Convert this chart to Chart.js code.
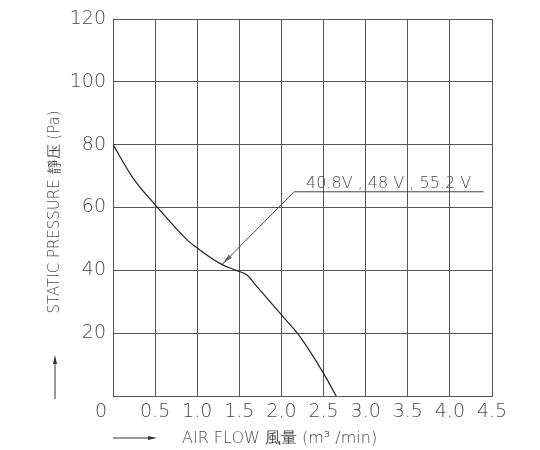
<!DOCTYPE html>
<html>
<head>
<meta charset="utf-8">
<script src="https://cdn.jsdelivr.net/npm/chart.js@4/dist/chart.umd.min.js"></script>
<style>
  html, body { margin: 0; padding: 0; background: #fff; }
  #wrap { width: 540px; height: 450px; position: relative; }
</style>
</head>
<body>
<div id="wrap"><canvas id="c" width="540" height="450"></canvas></div>
<script>
// P-Q curve
var flowX = [0, 0.24, 0.52, 0.88, 1.03, 1.29, 1.47, 1.59, 1.71, 2.0, 2.22, 2.5, 2.65];
var pressY = [80, 69.3, 60.3, 49.7, 46.5, 41.9, 39.9, 38.5, 34.8, 25.8, 18.9, 7.2, 0];

// leader line for the voltage note
var leaderX = [4.4, 2.15, 1.3];
var leaderY = [65, 65, 42];
var noteText = "40.8V , 48 V , 55.2 V";

var xTicks = [0, 0.5, 1.0, 1.5, 2.0, 2.5, 3.0, 3.5, 4.0, 4.5];
var yTicks = [0, 20, 40, 60, 80, 100, 120];

var FONT = '"DejaVu Sans", sans-serif';
var TXT = "#4a4a4a";
var GRID = "#555";

function pts(xs, ys) {
  return xs.map(function(x, i) { return { x: x, y: ys[i] }; });
}

// draws the leader arrowhead, the note, the stray "0" and the axis titles
var extras = {
  id: "extras",
  afterDatasetsDraw: function(chart) {
    var ctx = chart.ctx;
    var xs = chart.scales.x, ys = chart.scales.y;
    ctx.save();

    // arrowhead at end of leader
    var n = leaderX.length;
    var tx = xs.getPixelForValue(leaderX[n - 1]), ty = ys.getPixelForValue(leaderY[n - 1]);
    var fx = xs.getPixelForValue(leaderX[n - 2]), fy = ys.getPixelForValue(leaderY[n - 2]);
    var a = Math.atan2(ty - fy, tx - fx);
    var len = 11, w = 2.2;
    ctx.fillStyle = "#666";
    ctx.beginPath();
    ctx.moveTo(tx, ty);
    ctx.lineTo(tx - len * Math.cos(a) + w * Math.sin(a), ty - len * Math.sin(a) - w * Math.cos(a));
    ctx.lineTo(tx - len * Math.cos(a) - w * Math.sin(a), ty - len * Math.sin(a) + w * Math.cos(a));
    ctx.closePath();
    ctx.fill();

    // note text above the leader
    ctx.fillStyle = TXT;
    ctx.font = "200 16px " + FONT;
    ctx.textAlign = "left";
    ctx.textBaseline = "alphabetic";
    ctx.fillText(noteText, 306, ys.getPixelForValue(65) - 4);

    // x "0" label sits left of the axis
    ctx.font = "200 19px " + FONT;
    ctx.textAlign = "center";
    ctx.textBaseline = "middle";
    ctx.fillText("0", xs.left - 12, 412);

    // x title with arrow
    ctx.strokeStyle = "#333";
    ctx.lineWidth = 1;
    ctx.beginPath();
    ctx.moveTo(113, 438); ctx.lineTo(152, 438); ctx.stroke();
    ctx.fillStyle = "#333";
    ctx.beginPath();
    ctx.moveTo(157, 438); ctx.lineTo(148, 436); ctx.lineTo(148, 440); ctx.closePath(); ctx.fill();
    ctx.fillStyle = TXT;
    ctx.font = "200 16px " + FONT;
    ctx.textAlign = "left";
    ctx.fillText("AIR FLOW 風量 (m\u00b3 /min)", 182, 439);

    // y title rotated, with arrow
    ctx.beginPath();
    ctx.moveTo(55, 399); ctx.lineTo(55, 360); ctx.stroke();
    ctx.fillStyle = "#333";
    ctx.beginPath();
    ctx.moveTo(55, 355); ctx.lineTo(53, 364); ctx.lineTo(57, 364); ctx.closePath(); ctx.fill();
    ctx.translate(55, 212);
    ctx.rotate(-Math.PI / 2);
    ctx.fillStyle = TXT;
    ctx.font = "200 15px " + FONT;
    ctx.textAlign = "center";
    ctx.fillText("STATIC PRESSURE 靜压 (Pa)", 0, 0);
    ctx.restore();
  }
};

new Chart(document.getElementById("c").getContext("2d"), {
  type: "scatter",
  data: {
    datasets: [
      {
        data: pts(flowX, pressY),
        showLine: true,
        borderColor: "#222",
        borderWidth: 1.2,
        pointRadius: 0,
        cubicInterpolationMode: "monotone",
        fill: false
      },
      {
        data: pts(leaderX, leaderY),
        showLine: true,
        borderColor: "#444",
        borderWidth: 1,
        pointRadius: 0,
        tension: 0,
        fill: false
      }
    ]
  },
  options: {
    responsive: false,
    animation: false,
    devicePixelRatio: 1,
    layout: { padding: { top: 19, right: 48, left: 0, bottom: 0 } },
    plugins: { legend: { display: false }, tooltip: { enabled: false } },
    scales: {
      x: {
        type: "linear",
        min: 0, max: 4.5,
        afterBuildTicks: function(s) { s.ticks = xTicks.map(function(v) { return { value: v }; }); },
        afterFit: function(s) { s.height = 450 - 396; },
        ticks: {
          color: TXT,
          font: { family: FONT, size: 19, weight: 200 },
          padding: 5,
          maxRotation: 0,
          autoSkip: false,
          callback: function(v) { return v === 0 ? "" : v.toFixed(1); }
        },
        grid: { color: GRID, lineWidth: 1, drawTicks: false },
        border: { color: GRID, width: 1 }
      },
      y: {
        type: "linear",
        min: 0, max: 120,
        afterBuildTicks: function(s) { s.ticks = yTicks.map(function(v) { return { value: v }; }); },
        afterFit: function(s) { s.width = 113; },
        ticks: {
          color: TXT,
          font: { family: FONT, size: 19, weight: 200 },
          padding: 7,
          autoSkip: false,
          callback: function(v) { return v === 0 ? "" : String(v); }
        },
        grid: { color: GRID, lineWidth: 1, drawTicks: false },
        border: { color: GRID, width: 1 }
      }
    }
  },
  plugins: [extras]
});
</script>
</body>
</html>
